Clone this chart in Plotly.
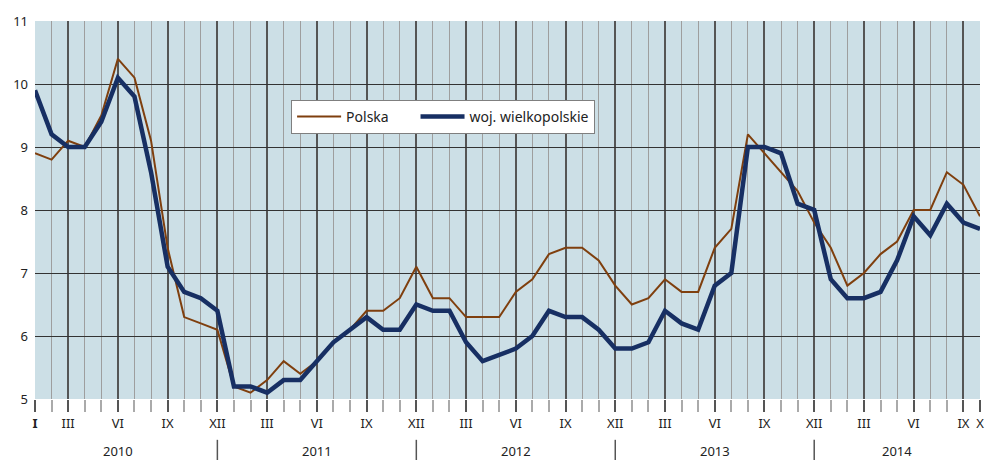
import plotly.graph_objects as go

roman = ["I", "II", "III", "IV", "V", "VI", "VII", "VIII", "IX", "X", "XI", "XII"]
years = [2010, 2011, 2012, 2013, 2014]
months_last_year = 10

polska = [
    8.9, 8.8, 9.1, 9.0, 9.5, 10.4, 10.1, 9.1, 7.4, 6.3, 6.2, 6.1,
    5.2, 5.1, 5.3, 5.6, 5.4, 5.6, 5.9, 6.1, 6.4, 6.4, 6.6, 7.1,
    6.6, 6.6, 6.3, 6.3, 6.3, 6.7, 6.9, 7.3, 7.4, 7.4, 7.2, 6.8,
    6.5, 6.6, 6.9, 6.7, 6.7, 7.4, 7.7, 9.2, 8.9, 8.6, 8.3, 7.8,
    7.4, 6.8, 7.0, 7.3, 7.5, 8.0, 8.0, 8.6, 8.4, 7.9,
]
wielkopolskie = [
    9.9, 9.2, 9.0, 9.0, 9.4, 10.1, 9.8, 8.6, 7.1, 6.7, 6.6, 6.4,
    5.2, 5.2, 5.1, 5.3, 5.3, 5.6, 5.9, 6.1, 6.3, 6.1, 6.1, 6.5,
    6.4, 6.4, 5.9, 5.6, 5.7, 5.8, 6.0, 6.4, 6.3, 6.3, 6.1, 5.8,
    5.8, 5.9, 6.4, 6.2, 6.1, 6.8, 7.0, 9.0, 9.0, 8.9, 8.1, 8.0,
    6.9, 6.6, 6.6, 6.7, 7.2, 7.9, 7.6, 8.1, 7.8, 7.7,
]
labelled_months = ["III", "VI", "IX", "XII"]

# build month index / labels
month_names = []
month_year = []
for y in years:
    n = months_last_year if y == years[-1] else 12
    for m in range(n):
        month_names.append(roman[m])
        month_year.append(y)
x = list(range(len(month_names)))
last = x[-1]

tickvals, ticktext = [], []
for i, (mn, yr) in enumerate(zip(month_names, month_year)):
    if i == 0:
        tickvals.append(i); ticktext.append("<b>I</b>")
    elif mn in labelled_months or i == last:
        tickvals.append(i); ticktext.append(mn)

FONT = "Noto Sans"
BROWN = "#7F3F0E"
NAVY = "#172F63"
PAD = "\u00a0" * 6

fig = go.Figure()
fig.add_trace(go.Scatter(x=x, y=polska, mode="lines", name="Polska" + PAD,
                         line=dict(color=BROWN, width=2)))
fig.add_trace(go.Scatter(x=x, y=wielkopolskie, mode="lines", name="woj. wielkopolskie",
                         line=dict(color=NAVY, width=4.5)))

# year separators and labels
shapes, annotations = [], []
for y in years:
    idx = [i for i, yr in enumerate(month_year) if yr == y]
    start, end = idx[0], idx[-1]
    center = (start - 1 + end) / 2
    annotations.append(dict(x=center, y=-0.138, xref="x", yref="paper", text=str(y),
                            showarrow=False, font=dict(family=FONT, size=13, color="#222"),
                            yanchor="middle"))
    if y != years[-1]:
        shapes.append(dict(type="line", xref="x", yref="paper", x0=end, x1=end,
                           y0=-0.108, y1=-0.165, line=dict(color="#555", width=1.5)))

fig.update_layout(
    width=985, height=460,
    margin=dict(l=35, r=5, t=21, b=61, autoexpand=False),
    paper_bgcolor="white",
    plot_bgcolor="#CCDFE6",
    font=dict(family=FONT, size=13, color="#222"),
    showlegend=True,
    legend=dict(orientation="h", x=0.271, y=0.791, xanchor="left", yanchor="top",
                bgcolor="white", bordercolor="#7F7F7F", borderwidth=1,
                font=dict(family=FONT, size=14, color="#222"),
                itemwidth=44, tracegroupgap=0),
    shapes=shapes,
    annotations=annotations,
    xaxis=dict(
        range=[0, last], tickmode="array", tickvals=tickvals, ticktext=ticktext,
        showgrid=True, gridcolor="#555555", gridwidth=1.5,
        ticks="outside", ticklen=12, tickcolor="#555555", tickwidth=1.5,
        tickfont=dict(family=FONT, size=13, color="#222"),
        minor=dict(tickmode="array", tickvals=x, showgrid=True, gridcolor="#9E9E9E",
                   gridwidth=1, ticks="outside", ticklen=12, tickcolor="#AAAAAA"),
        zeroline=False, showline=False, automargin=False,
    ),
    yaxis=dict(
        range=[5, 11], tickmode="array", tickvals=[5, 6, 7, 8, 9, 10, 11],
        showgrid=True, gridcolor="#333333", gridwidth=1.2,
        ticks="", zeroline=False, showline=False, automargin=False,
        tickfont=dict(family=FONT, size=13, color="#222"),
        ticklabelstandoff=6,
    ),
)

fig.write_html("out.html", config={"displayModeBar": False},
               post_script="document.body.style.margin='0';document.body.style.overflow='hidden';")
